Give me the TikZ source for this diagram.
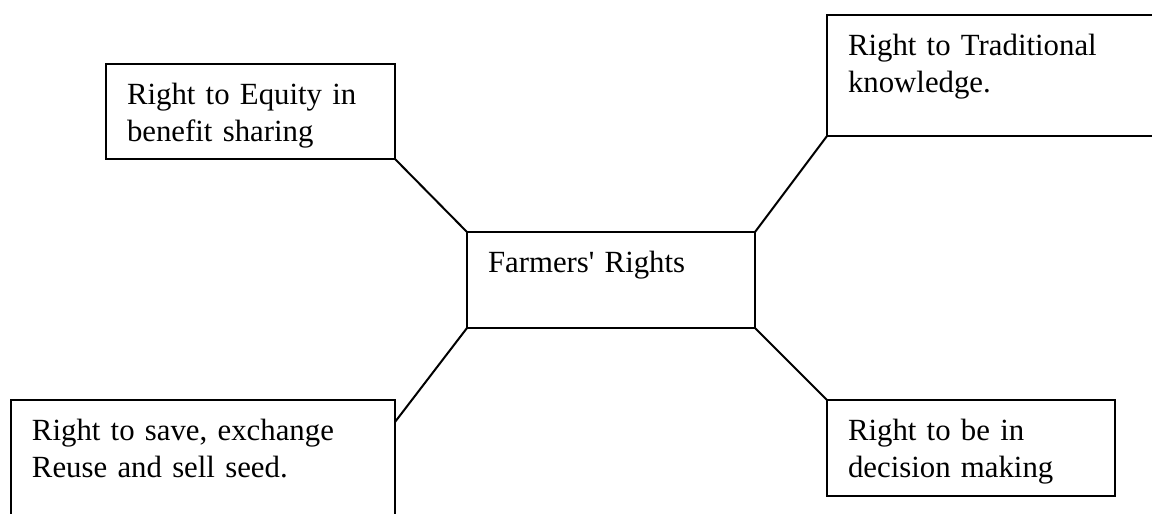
\documentclass[tikz,border=0pt]{standalone}
\usepackage{fontspec}
\setmainfont{Liberation Serif}
\usepackage{tikz}
\usetikzlibrary{positioning,calc}
\tikzset{
    %Define style for boxes
    rightbox/.style={
           draw,
           line width=1pt,
           outer sep=0pt,
           inner xsep=10.5pt,
           inner ysep=0pt,
           anchor=north west,
           align=left,
           text height=20pt,
           font=\fontsize{15.4}{18.75}\selectfont},
    % Define line style
    link/.style={
           line width=1pt}
}
\begin{document}
\begin{tikzpicture}[x=0.5pt,y=-0.5pt]
    \useasboundingbox (0,0) rectangle (1152,514);
    \clip (0,0) rectangle (1152,514);

    % centre
    \node[rightbox, text width=123pt, text depth=28pt] (hub) at (467,232) {Farmers\textquotesingle{} Rights};

    % rights
    \node[rightbox, text width=123.5pt, text depth=27.5pt] (equity) at (106,64) {Right to Equity in\\benefit sharing};
    \node[rightbox, text width=150.5pt, text depth=40.5pt] (tradition) at (827,15) {Right to Traditional\\knowledge.};
    \node[rightbox, text width=171pt, text depth=45pt] (seed) at (11,400) {Right to save, exchange\\Reuse and sell seed.};
    \node[rightbox, text width=123pt, text depth=28pt] (decision) at (827,400) {Right to be in\\decision making};

    % links
    \path[link] (equity.south east) edge (hub.north west)
                (tradition.south west) edge (hub.north east)
                (hub.south east) edge (decision.north west)
                (hub.south west) edge ([yshift=-11pt]seed.north east);
\end{tikzpicture}
\end{document}
